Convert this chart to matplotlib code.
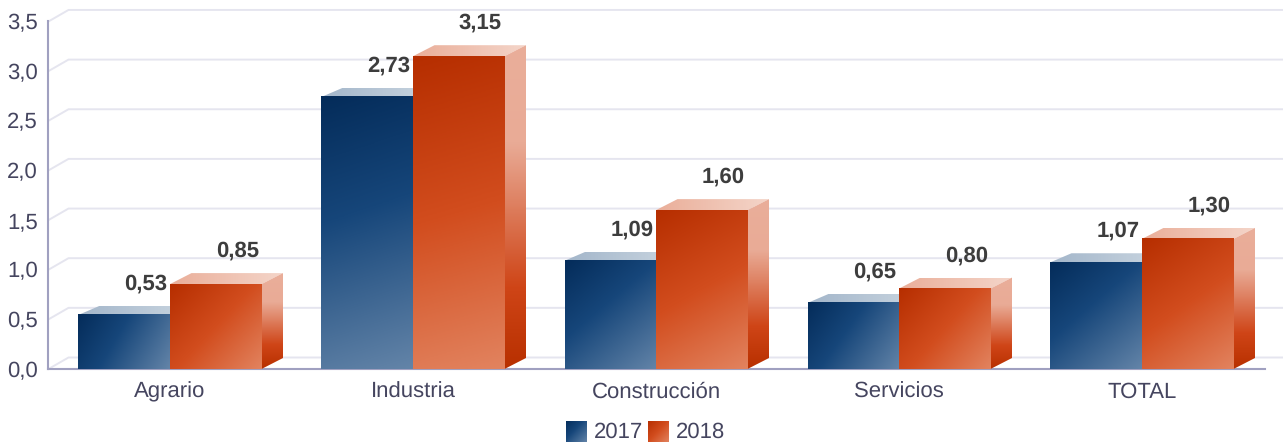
import numpy as np
import matplotlib
matplotlib.use("Agg")
import matplotlib.pyplot as plt
from matplotlib.colors import LinearSegmentedColormap
from matplotlib.patches import Polygon
from matplotlib.transforms import ScaledTranslation

categories = ["Agrario", "Industria", "Construcción", "Servicios", "TOTAL"]
series_names = ["2017", "2018"]
labels_2017 = ["0,53", "2,73", "1,09", "0,65", "1,07"]
labels_2018 = ["0,85", "3,15", "1,60", "0,80", "1,30"]
# bar heights as drawn in the picture, read against the axis
heights_2017 = [0.545, 2.74, 1.09, 0.665, 1.075]
heights_2018 = [0.855, 3.15, 1.60, 0.81, 1.31]
y_ticks = [0.0, 0.5, 1.0, 1.5, 2.0, 2.5, 3.0, 3.5]

W, H = 1283, 444
PX_X = 243.0   # pixels per category
PX_Y = 99.3    # pixels per value unit
X0, Y0 = 170.0, 369.0
FS = 15.9
plt.rcParams["font.family"] = ["Liberation Sans", "DejaVu Sans"]
plt.rcParams["text.hinting"] = "none"

fig = plt.figure(figsize=(W / 100, H / 100), dpi=100)
ax = fig.add_axes([0, 0, 1, 1])
ax.patch.set_alpha(0)
xlim = (-X0 / PX_X, (W - X0) / PX_X)
ylim = (-(H - Y0) / PX_Y, Y0 / PX_Y)

BW = 91.5 / PX_X
GRID_DX, GRID_DY = 20 / PX_X, 11.5 / PX_Y
AXIS_X = (48.5 - X0) / PX_X
GRID_END = (1283 - X0) / PX_X
AXIS_END = (1265 - X0) / PX_X

blue = dict(
    front=LinearSegmentedColormap.from_list("bf", [(0, "#042c5a"), (0.42, "#16467a"), (1, "#6384a8")]),
    top=LinearSegmentedColormap.from_list("bt", ["#a3b6ca", "#c9d5e0"]),
    side=LinearSegmentedColormap.from_list("bs", [(0, "#eaae9a"), (1, "#b83000")]),
    dx=21 / PX_X, dy=9 / PX_Y)
red = dict(
    front=LinearSegmentedColormap.from_list("rf", [(0, "#b62e00"), (0.5, "#d24d1e"), (1, "#e2835f")]),
    top=LinearSegmentedColormap.from_list("rt", ["#eaae99", "#f4d5c9"]),
    side=LinearSegmentedColormap.from_list("rs", [(0, "#eaae9a"), (0.3, "#e9ab96"), (0.75, "#cf4517"), (1, "#b83000")]),
    dx=21.5 / PX_X, dy=11 / PX_Y)

N = 128
u, v = np.meshgrid(np.linspace(0, 1, N), np.linspace(0, 1, N))


def diag(w_px, h_px):
    # gradient running along the box diagonal in true pixel space
    return (u * w_px ** 2 + v * h_px ** 2) / (w_px ** 2 + h_px ** 2)


def face(img, cmap, extent, z, clip=None):
    im = ax.imshow(img, cmap=cmap, vmin=0, vmax=1, extent=extent, origin="upper",
                   aspect="auto", zorder=z, interpolation="bilinear")
    if clip is not None:
        poly = Polygon(clip, closed=True, transform=ax.transData, fc="none", ec="none")
        ax.add_patch(poly)
        im.set_clip_path(poly)
    return im


def bar3d(left, val, st, z, side=True):
    right = left + BW
    dx, dy = st["dx"], st["dy"]
    face(u, st["top"], (left, right + dx, val, val + dy), z,
         [(left, val), (right, val), (right + dx, val + dy), (left + dx, val + dy)])
    if side:
        face(v, st["side"], (right, right + dx, 0, val + dy), z,
             [(right, 0), (right + dx, dy), (right + dx, val + dy), (right, val)])
    face(diag(BW * PX_X, val * PX_Y), st["front"], (left, right, 0, val), z + 0.1)


# back wall and left wall grid
for t in y_ticks:
    ax.plot([AXIS_X, AXIS_X + GRID_DX, GRID_END], [t, t + GRID_DY, t + GRID_DY],
            color="#e5e5ef", lw=1.4, zorder=1, solid_joinstyle="miter")

# bars
for i, (a, b) in enumerate(zip(heights_2017, heights_2018)):
    bar3d(i - BW, a, blue, 3, side=False)
    bar3d(i, b, red, 4)
    ax.annotate(labels_2017[i], (i - BW / 2, a), xytext=(21.5 * .72, 31 * .72),
                textcoords="offset points", ha="center", va="center", fontsize=FS,
                fontweight="bold", color="#3d3d3d", zorder=6)
    ax.annotate(labels_2018[i], (i + BW / 2, b), xytext=(21.5 * .72, 33 * .72),
                textcoords="offset points", ha="center", va="center", fontsize=FS,
                fontweight="bold", color="#3d3d3d", zorder=6)

ax.set_xlim(xlim)
ax.set_ylim(ylim)

# axes
for s in ("top", "right"):
    ax.spines[s].set_visible(False)
ax.spines["left"].set_position(("data", AXIS_X))
ax.spines["left"].set_bounds(0, 3.5)
ax.spines["bottom"].set_position(("data", 0))
ax.spines["bottom"].set_bounds(AXIS_X, AXIS_END)
for s in ("left", "bottom"):
    ax.spines[s].set_color("#a0a0c0")
    ax.spines[s].set_linewidth(1.5)
    ax.spines[s].set_zorder(2.5)
ax.set_yticks(y_ticks, [f"{t:.1f}".replace(".", ",") for t in y_ticks])
ax.set_xticks(range(len(categories)), categories)
ax.tick_params(axis="y", length=0, pad=7.5, labelsize=FS, labelcolor="#45455f")
ax.tick_params(axis="x", length=0, pad=9, labelsize=FS, labelcolor="#45455f")
shift = ScaledTranslation(0, -2 / 72 * 0.72 * 1.0, fig.dpi_scale_trans)
for lab in ax.get_yticklabels():
    lab.set_verticalalignment("center")
    lab.set_transform(lab.get_transform() + shift)

# legend
for (x0, name, st, tx) in [(566, series_names[0], blue, 594), (648, series_names[1], red, 676)]:
    sw = fig.add_axes([x0 / W, 1 - 442 / H, 21 / W, 21 / H])
    sw.imshow((u + v) / 2, cmap=st["front"], vmin=0, vmax=1, aspect="auto", interpolation="bilinear")
    sw.axis("off")
    fig.text(tx / W, 1 - 432 / H, name, fontsize=FS, color="#45455f", ha="left", va="center")

fig.savefig("out.png", dpi=100)
